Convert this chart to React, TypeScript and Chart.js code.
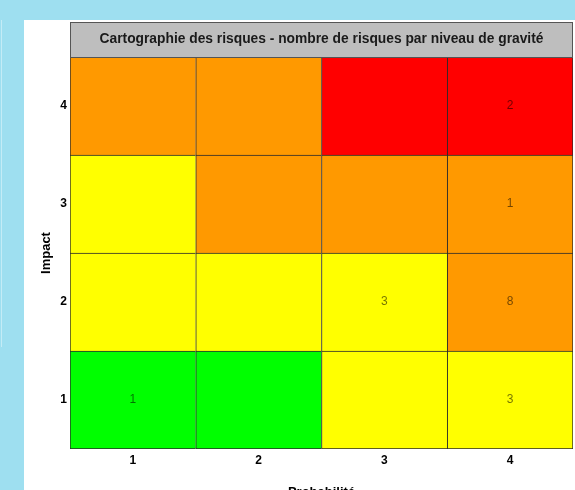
import React, { useEffect, useRef } from 'react';
import { Chart, registerables } from 'chart.js';

Chart.register(...registerables);

// ---- Data ----
const chartTitle = 'Cartographie des risques - nombre de risques par niveau de gravité';
const xAxisTitle = 'Probabilité';
const yAxisTitle = 'Impact';
const probabilityLabels = ['1', '2', '3', '4'];
const impactLevels = [1, 2, 3, 4];

const impact1Severity = ['faible', 'faible', 'moyen', 'moyen'];
const impact2Severity = ['moyen', 'moyen', 'moyen', 'élevé'];
const impact3Severity = ['moyen', 'élevé', 'élevé', 'élevé'];
const impact4Severity = ['élevé', 'élevé', 'critique', 'critique'];

const impact1Counts = [1, 0, 0, 3];
const impact2Counts = [0, 0, 3, 8];
const impact3Counts = [0, 0, 0, 1];
const impact4Counts = [0, 0, 0, 2];

const severityColors: Record<string, string> = {
  faible: '#00FF00',
  moyen: '#FFFF00',
  'élevé': '#FF9900',
  critique: '#FF0000',
};

const severityRows = [impact1Severity, impact2Severity, impact3Severity, impact4Severity];
const countRows = [impact1Counts, impact2Counts, impact3Counts, impact4Counts];

const FONT = "'Liberation Sans', Arial, Helvetica, sans-serif";

const stripPlugin = {
  id: 'strip',
  afterDraw(chart: any) {
    const { ctx, chartArea } = chart;
    const h = 35;
    ctx.save();
    ctx.fillStyle = '#BEBEBE';
    ctx.fillRect(chartArea.left, chartArea.top - h, chartArea.right - chartArea.left, h);
    ctx.strokeStyle = '#555555';
    ctx.lineWidth = 1;
    ctx.strokeRect(chartArea.left + 0.5, chartArea.top - h + 0.5, chartArea.right - chartArea.left - 1, h);
    ctx.fillStyle = '#1A1A1A';
    ctx.font = `bold 13.8px ${FONT}`;
    ctx.textAlign = 'center';
    ctx.textBaseline = 'middle';
    ctx.fillText(chartTitle, (chartArea.left + chartArea.right) / 2, chartArea.top - h / 2);
    ctx.restore();
  },
};

const countPlugin = {
  id: 'counts',
  afterDatasetsDraw(chart: any) {
    const { ctx } = chart;
    const xs = chart.scales.x;
    const ys = chart.scales.y;
    ctx.save();
    ctx.font = `12px ${FONT}`;
    ctx.fillStyle = 'rgba(0,0,0,0.55)';
    ctx.textAlign = 'center';
    ctx.textBaseline = 'middle';
    impactLevels.forEach((imp, i) => {
      countRows[i].forEach((c, j) => {
        if (c > 0) {
          ctx.fillText(String(c), xs.getPixelForValue(j), ys.getPixelForValue(imp));
        }
      });
    });
    ctx.restore();
  },
};

export default function App() {
  const ref = useRef<HTMLCanvasElement | null>(null);

  useEffect(() => {
    if (!ref.current) return;
    const datasets = impactLevels.map((imp, i) => ({
      label: `Impact ${imp}`,
      data: probabilityLabels.map(() => [imp - 0.5, imp + 0.5]),
      backgroundColor: severityRows[i].map((s) => severityColors[s]),
      borderColor: '#2b2b2b',
      borderWidth: (ctx: any) => ({
        top: 1,
        left: 1,
        right: ctx.dataIndex === probabilityLabels.length - 1 ? 1 : 0,
        bottom: imp === 1 ? 1 : 0,
      }),
      borderSkipped: false,
      grouped: false,
      barPercentage: 1,
      categoryPercentage: 1,
    }));

    const chart = new Chart(ref.current, {
      type: 'bar',
      data: { labels: probabilityLabels, datasets: datasets as any },
      options: {
        animation: false,
        responsive: false,
        maintainAspectRatio: false,
        layout: { padding: { top: 37, right: 2, left: 0, bottom: 0 } },
        plugins: {
          legend: { display: false },
          tooltip: { enabled: false },
          title: { display: false },
        },
        scales: {
          x: {
            type: 'category',
            grid: { display: false, drawTicks: false },
            border: { display: false },
            ticks: { color: '#000', font: { family: FONT, size: 12, weight: 'bold' }, padding: 4 },
            title: {
              display: true,
              text: xAxisTitle,
              color: '#000',
              font: { family: FONT, size: 13, weight: 'bold' },
              padding: { top: 0, bottom: 10 },
            },
            afterFit: (scale: any) => {
              scale.height = 61;
            },
          },
          y: {
            type: 'linear',
            min: 0.5,
            max: 4.5,
            grid: { display: false, drawTicks: false },
            border: { display: false },
            afterBuildTicks: (scale: any) => {
              scale.ticks = impactLevels.map((v) => ({ value: v }));
            },
            ticks: { color: '#000', font: { family: FONT, size: 12, weight: 'bold' }, padding: 3 },
            title: {
              display: true,
              text: yAxisTitle,
              color: '#000',
              font: { family: FONT, size: 13, weight: 'bold' },
              padding: { top: 15, bottom: 0 },
            },
            afterFit: (scale: any) => {
              scale.width = 46;
            },
          },
        },
      } as any,
      plugins: [stripPlugin, countPlugin],
    });
    return () => chart.destroy();
  }, []);

  return (
    <div
      style={{
        position: 'fixed',
        left: 0,
        top: 0,
        width: 575,
        height: 490,
        overflow: 'hidden',
        background: '#9EDFF0',
      }}
    >
      <div style={{ position: 'absolute', left: 1, top: 20, width: 1, height: 327, background: '#C4ECF6' }} />
      <div style={{ position: 'absolute', left: 24, top: 20, width: 551, height: 490, background: '#FFFFFF' }}>
        <canvas ref={ref} width={551} height={490} style={{ display: 'block', width: 551, height: 490 }} />
      </div>
    </div>
  );
}
